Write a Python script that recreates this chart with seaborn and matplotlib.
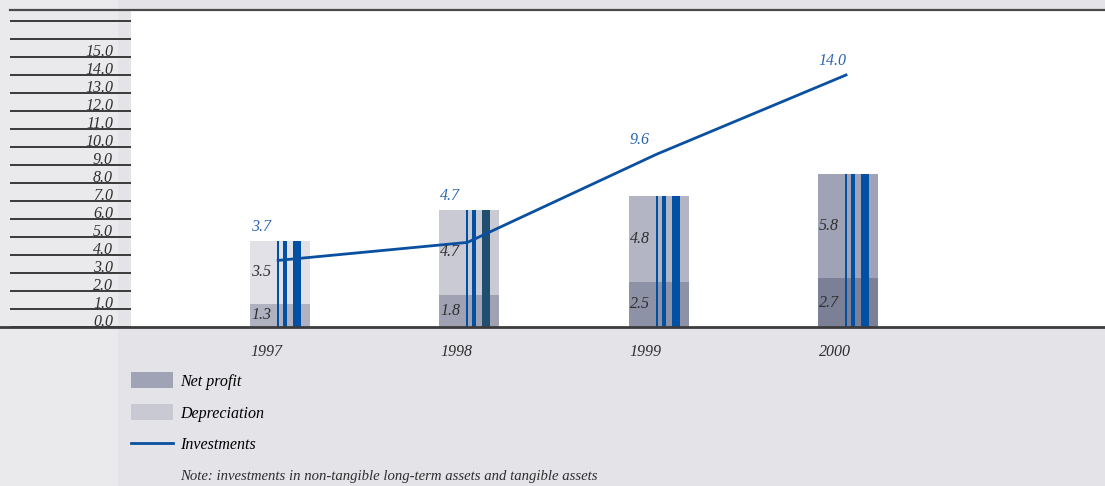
import numpy as np
import pandas as pd
import matplotlib
matplotlib.use("Agg")
import matplotlib.pyplot as plt
import matplotlib.transforms as mtransforms
from matplotlib.patches import Rectangle, Patch
from matplotlib.lines import Line2D
import seaborn as sns

# ---- data -------------------------------------------------------------
years = ["1997", "1998", "1999", "2000"]
net_profit = [1.3, 1.8, 2.5, 2.7]
depreciation = [3.5, 4.7, 4.8, 5.8]
investments = [3.7, 4.7, 9.6, 14.0]
y_ticks = list(range(0, 16))

# ---- styling ------------------------------------------------------------
W, H = 1105, 486
FONT = "Liberation Serif"
plt.rcParams["font.family"] = [FONT, "DejaVu Serif"]
plt.rcParams["font.style"] = "italic"

dep_colors = ["#e1e1e7", "#cacad4", "#b3b5c5", "#a0a3b6"]
net_colors = ["#b0b1c1", "#a0a2b4", "#8e92a6", "#7b8096"]
stripe_blue = "#0050a4"
thick_colors = [stripe_blue, "#1f4e6e", stripe_blue, stripe_blue]
line_blue = "#0a50a0"
label_blue = "#2a64b0"
text_dark = "#2e2e2e"
rule_dark = "#3a3a3a"

PX_PER_CAT = 189.3          # horizontal pixels per category
BAR_W = 60 / PX_PER_CAT

pos = np.arange(len(years), dtype=float)
totals = [n + d for n, d in zip(net_profit, depreciation)]
df = pd.DataFrame({"pos": pos, "year": years, "net": net_profit,
                   "total": totals, "inv": investments})

fig = plt.figure(figsize=(W / 100, H / 100), dpi=100)
fig.patch.set_facecolor("#e3e3e8")
fig.add_artist(Rectangle((0, 0), 117 / W, 1, transform=fig.transFigure,
                         color="#eaeaec", zorder=0))

y_top = (327 - 10) / 18.0
ax = fig.add_axes([131 / W, (H - 327) / H, (W - 131) / W, (327 - 10) / H])
ax.set_facecolor("white")

# stacked bars: full height (depreciation colour) then net profit on top of it
sns.barplot(data=df, x="pos", y="total", hue="year", palette=dep_colors,
            native_scale=True, width=BAR_W, saturation=1, linewidth=0,
            legend=False, ax=ax, zorder=2)
sns.barplot(data=df, x="pos", y="net", hue="year", palette=net_colors,
            native_scale=True, width=BAR_W, saturation=1, linewidth=0,
            legend=False, ax=ax, zorder=2)

# decorative vertical stripes inside each bar
stripes = [(-2, 2), (5, 4), (17, 8)]
for k, (off, w) in enumerate(stripes):
    cols = thick_colors if k == 2 else [stripe_blue] * len(years)
    ax.bar(pos + off / PX_PER_CAT, totals, width=w / PX_PER_CAT,
           color=cols, linewidth=0, zorder=3)

# investments line
sns.lineplot(x=pos - 0.01, y=investments, color=line_blue, linewidth=2.0,
             ax=ax, zorder=4)

# value labels
for i in range(len(years)):
    left = pos[i] - BAR_W / 2
    ax.annotate(f"{net_profit[i]:.1f}", xy=(left, net_profit[i] / 2),
                xytext=(1, 0), textcoords="offset pixels",
                ha="left", va="center", fontsize=11.5, color=text_dark, zorder=5)
    ax.annotate(f"{depreciation[i]:.1f}",
                xy=(left, net_profit[i] + depreciation[i] / 2),
                xytext=(1, 0), textcoords="offset pixels",
                ha="left", va="center", fontsize=11.5, color=text_dark, zorder=5)
    ax.annotate(f"{investments[i]:.1f}", xy=(left, max(totals[i], investments[i])),
                xytext=(1, 14), textcoords="offset pixels",
                ha="left", va="center", fontsize=11.5, color=label_blue, zorder=5)
    ax.annotate(years[i], xy=(pos[i] - 0.07, 0), xytext=(0, -25),
                textcoords="offset pixels", ha="center", va="center",
                fontsize=11.5, color=text_dark, annotation_clip=False)

ax.set_xlim((131 - 280) / PX_PER_CAT, (W - 280) / PX_PER_CAT)
ax.set_ylim(0, y_top)
ax.set_xlabel("")
ax.set_ylabel("")
ax.set_xticks([])
ax.set_yticks([])
for s in ax.spines.values():
    s.set_visible(False)

# y scale drawn as ruled lines in the left margin
ax_l = fig.add_axes([10 / W, (H - 327) / H, 121 / W, (327 - 10) / H])
ax_l.set_ylim(0, y_top)
ax_l.set_xlim(0, 1)
ax_l.axis("off")
ax_l.hlines(list(range(0, 18)), 0, 1, color=rule_dark, linewidth=1.4)
trans = mtransforms.blended_transform_factory(ax_l.transAxes, ax_l.transData)
for v in y_ticks:
    ax_l.annotate(f"{v:.1f}", xy=((113 - 10) / 121, v), xycoords=trans,
                  xytext=(0, 1), textcoords="offset pixels",
                  ha="right", va="baseline", fontsize=11.5, color=text_dark)

# top rule and baseline across the figure
fig.add_artist(Line2D([10 / W, 1], [1 - 10 / H, 1 - 10 / H],
                      transform=fig.transFigure, color="#4a4a4a", linewidth=1.6))
fig.add_artist(Line2D([0, 1], [1 - 327 / H, 1 - 327 / H],
                      transform=fig.transFigure, color="#3c3c3c", linewidth=2.0))

# legend
handles = [Patch(facecolor="#a0a2b6", edgecolor="none", label="Net profit"),
           Patch(facecolor="#c9c9d3", edgecolor="none", label="Depreciation"),
           Line2D([], [], color=line_blue, linewidth=2.0, label="Investments")]
fig.legend(handles=handles, loc="upper left",
           bbox_to_anchor=(131 / W, 1 - 372 / H), frameon=False,
           handlelength=2.65, handleheight=1.2,
           handletextpad=0.45, labelspacing=0.9, borderpad=0,
           borderaxespad=0, prop={"family": FONT, "style": "italic", "size": 11.5})

fig.text(180 / W, 1 - 476 / H,
         "Note: investments in non-tangible long-term assets and tangible assets",
         ha="left", va="center", fontsize=10.6, color=text_dark)

fig.savefig("out.png", dpi=100, facecolor=fig.get_facecolor())
